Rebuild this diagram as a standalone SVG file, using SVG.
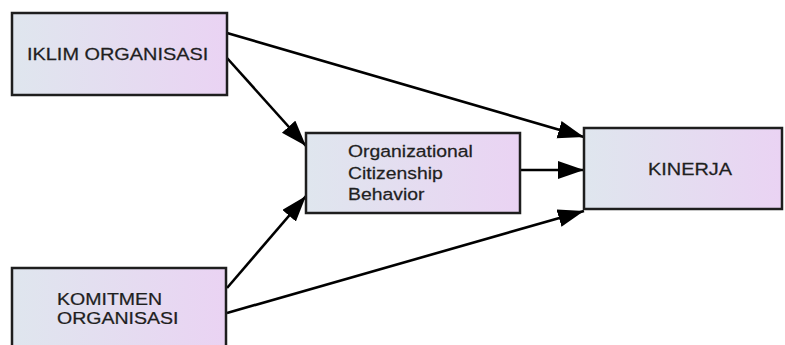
<svg xmlns="http://www.w3.org/2000/svg" width="785" height="345" viewBox="0 0 785 345">
  <defs>
    <linearGradient id="boxFill" x1="0" y1="0" x2="1" y2="0">
      <stop offset="0" stop-color="#dfe6ee"/>
      <stop offset="1" stop-color="#ead3f3"/>
    </linearGradient>
    <marker id="arrow" markerUnits="userSpaceOnUse" markerWidth="28" markerHeight="20" refX="26" refY="9" orient="auto">
      <path d="M0,0 L26,9 L0,18 z" fill="#000"/>
    </marker>
  </defs>
  <style>
    .box { fill: url(#boxFill); stroke: #1e1e1e; stroke-width: 2.5; }
    .lbl { font-family: "Liberation Sans", Arial, sans-serif; font-size: 17px; fill: #1f1f1f; stroke: #1f1f1f; stroke-width: 0.25; }
    .edge { stroke: #000; stroke-width: 2.6; fill: none; marker-end: url(#arrow); }
  </style>
  <rect width="785" height="345" fill="#fff"/>

  <g id="connectors">
    <line class="edge" x1="227" y1="33" x2="584" y2="137"/>
    <line class="edge" x1="227" y1="58" x2="306" y2="146"/>
    <line class="edge" x1="520" y1="170" x2="584" y2="170"/>
    <line class="edge" x1="227" y1="288" x2="306" y2="196"/>
    <line class="edge" x1="227" y1="313" x2="584" y2="211"/>
  </g>

  <g id="iklim">
    <rect class="box" x="12" y="13" width="215" height="82"/>
    <text class="lbl" transform="translate(27,60) scale(1.17,1)">IKLIM ORGANISASI</text>
  </g>

  <g id="ocb">
    <rect class="box" x="306" y="133" width="214" height="80"/>
    <text class="lbl" transform="translate(348,157) scale(1.14,1)">Organizational</text>
    <text class="lbl" transform="translate(348,179) scale(1.14,1)">Citizenship</text>
    <text class="lbl" transform="translate(348,200) scale(1.14,1)">Behavior</text>
  </g>

  <g id="kinerja">
    <rect class="box" x="584" y="128" width="198" height="81"/>
    <text class="lbl" transform="translate(648,175) scale(1.17,1)">KINERJA</text>
  </g>

  <g id="komitmen">
    <rect class="box" x="12" y="268" width="214" height="90"/>
    <text class="lbl" transform="translate(57,305) scale(1.15,1)">KOMITMEN</text>
    <text class="lbl" transform="translate(57,324) scale(1.15,1)">ORGANISASI</text>
  </g>
</svg>
